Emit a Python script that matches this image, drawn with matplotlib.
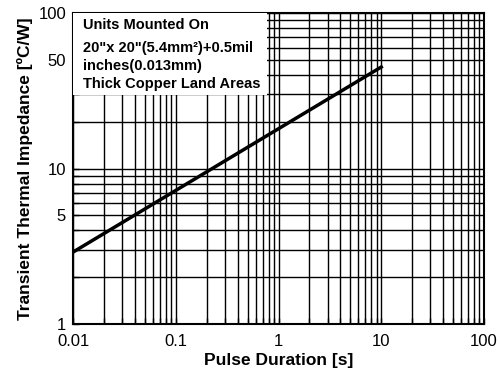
import matplotlib
matplotlib.use("Agg")
import matplotlib.pyplot as plt
from matplotlib.patches import Rectangle
from matplotlib.ticker import FixedLocator, FixedFormatter, NullFormatter, LogLocator

plt.rcParams['font.family'] = ['Liberation Sans', 'DejaVu Sans']

# data
pulse = [0.01, 10]
impedance = [2.9, 45]

x_ticks = [0.01, 0.1, 1, 10, 100]
x_labels = ["0.01", "0.1", "1", "10", "100"]
y_ticks = [1, 5, 10, 50, 100]
y_labels = ["1", "5", "10", "50", "100"]

note_lines = [
    "Units Mounted On",
    "20\"x 20\"(5.4mm\u00b2)+0.5mil",
    "inches(0.013mm)",
    "Thick Copper Land Areas",
]

fig = plt.figure(figsize=(5, 3.75), dpi=100)
ax = fig.add_axes([0.146, 0.136, 0.822, 0.829])

ax.set_xscale("log")
ax.set_yscale("log")
ax.set_xlim(0.01, 100)
ax.set_ylim(1, 100)

ax.xaxis.set_major_locator(FixedLocator(x_ticks))
ax.xaxis.set_major_formatter(FixedFormatter(x_labels))
ax.yaxis.set_major_locator(FixedLocator(y_ticks))
ax.yaxis.set_major_formatter(FixedFormatter(y_labels))
ax.xaxis.set_minor_locator(LogLocator(base=10, subs=range(1, 10), numticks=20))
ax.yaxis.set_minor_locator(LogLocator(base=10, subs=range(1, 10), numticks=20))
ax.xaxis.set_minor_formatter(NullFormatter())
ax.yaxis.set_minor_formatter(NullFormatter())

ax.grid(True, which="both", color="black", linewidth=1.0)
ax.tick_params(which="both", direction="in", labelsize=12, length=4, width=1)
ax.tick_params(axis="x", pad=7)
ax.tick_params(axis="y", pad=5)
for s in ax.spines.values():
    s.set_linewidth(1.5)

ax.plot(pulse, impedance, color="black", linewidth=2.5, zorder=4)

# white note box over the grid
ax.add_patch(Rectangle((0, 0.736), 0.471, 0.264, transform=ax.transAxes,
                       facecolor="white", edgecolor="none", zorder=3))
ys = [0.962, 0.888, 0.83, 0.772]
for line, yy in zip(note_lines, ys):
    ax.text(0.025, yy, line, transform=ax.transAxes, fontsize=10.5,
            fontweight="bold", va="center", ha="left", zorder=5)

ax.set_xlabel("Pulse Duration [s]", fontsize=12.5, fontweight="bold", labelpad=3)
ax.set_ylabel("Transient Thermal Impedance [\u00baC/W]", fontsize=12.5,
              fontweight="bold", labelpad=4)

fig.savefig("out.png", dpi=100)
